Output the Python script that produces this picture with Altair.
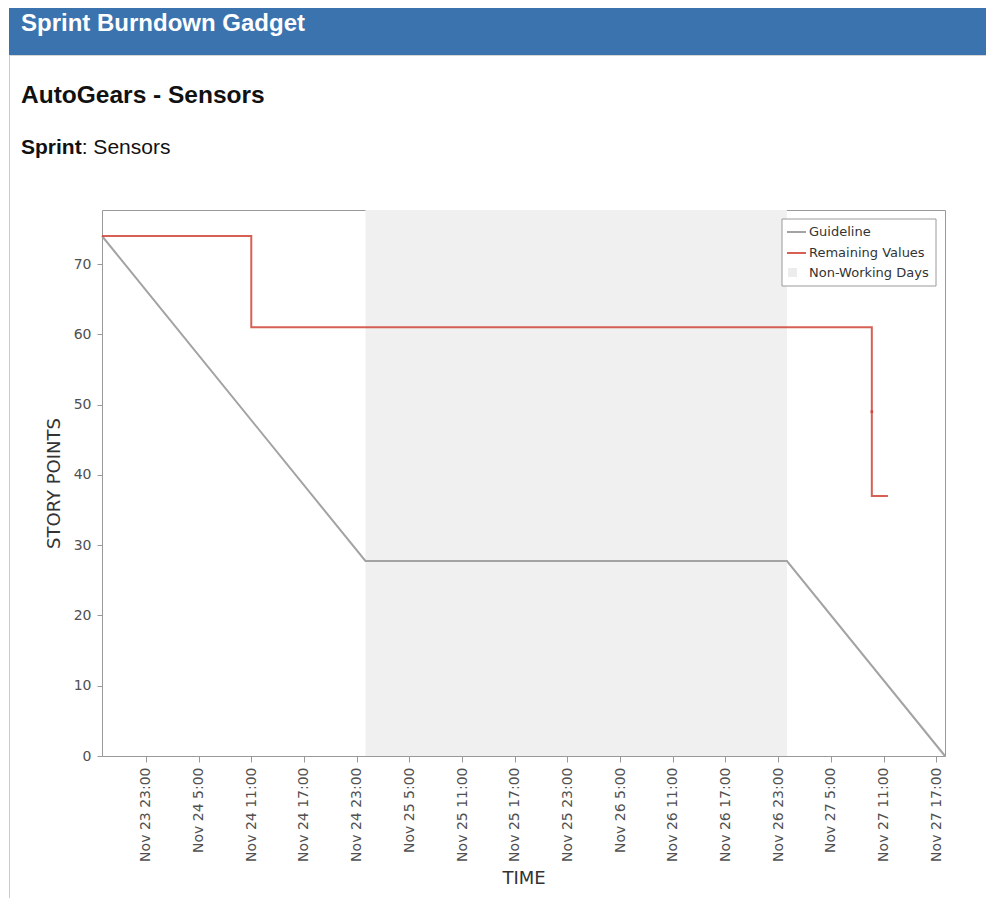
import altair as alt
import pandas as pd

# ---------------- data ----------------
header_title = "Sprint Burndown Gadget"
board_title = "AutoGears - Sensors"
sprint_label = "Sprint"
sprint_value = ": Sensors"

x_title = "TIME"
y_title = "STORY POINTS"

x_domain = ["2017-11-23T18:00:00Z", "2017-11-27T18:00:00Z"]
y_domain = [0, 77.7]
y_ticks = [0, 10, 20, 30, 40, 50, 60, 70]
x_ticks = [
    "2017-11-23T23:00:00Z", "2017-11-24T05:00:00Z", "2017-11-24T11:00:00Z",
    "2017-11-24T17:00:00Z", "2017-11-24T23:00:00Z", "2017-11-25T05:00:00Z",
    "2017-11-25T11:00:00Z", "2017-11-25T17:00:00Z", "2017-11-25T23:00:00Z",
    "2017-11-26T05:00:00Z", "2017-11-26T11:00:00Z", "2017-11-26T17:00:00Z",
    "2017-11-26T23:00:00Z", "2017-11-27T05:00:00Z", "2017-11-27T11:00:00Z",
    "2017-11-27T17:00:00Z",
]

guide_times = ["2017-11-23T18:00:00Z", "2017-11-25T00:00:00Z",
               "2017-11-27T00:00:00Z", "2017-11-27T18:00:00Z"]
guide_values = [74, 27.75, 27.75, 0]

remaining_times = ["2017-11-23T18:00:00Z", "2017-11-24T11:00:00Z",
                   "2017-11-27T09:40:00Z", "2017-11-27T09:40:00Z",
                   "2017-11-27T11:30:00Z"]
remaining_values = [74, 61, 49, 37, 37]

nonworking_start = ["2017-11-25T00:00:00Z"]
nonworking_end = ["2017-11-27T00:00:00Z"]

legend_labels = ["Guideline", "Remaining Values", "Non-Working Days"]

# ---------------- helpers ----------------
def ms(s):
    return int(pd.Timestamp(s).value // 10**6)

W, H = 843, 546
FONT = "DejaVu Sans"
HFONT = "Liberation Sans"
BLUE = "#3b73af"
RED = "#d04437"
GREY = "#a3a3a3"
SHADE = "#f0f0f0"

xscale = alt.Scale(type="utc", domain=[ms(x_domain[0]), ms(x_domain[1])], nice=False)
yscale = alt.Scale(domain=y_domain, nice=False, zero=True)

xaxis = alt.Axis(
    values=[ms(t) for t in x_ticks],
    labelExpr="utcFormat(datum.value, '%b %-d %-H:%M')",
    labelAngle=-90, title=x_title, tickSize=6, labelPadding=5,
    titlePadding=8, labelOverlap=False,
)
yaxis = alt.Axis(values=y_ticks, title=y_title, tickSize=5, labelPadding=6,
                 titlePadding=10)

guide_df = pd.DataFrame({"t": guide_times, "v": guide_values})
rem_df = pd.DataFrame({"t": remaining_times, "v": remaining_values,
                       "i": list(range(len(remaining_values)))})
shade_df = pd.DataFrame({"t": nonworking_start, "t2": nonworking_end})
one = pd.DataFrame({"k": [0]})

shade = alt.Chart(shade_df).mark_rect(color=SHADE).encode(
    x=alt.X("t:T", scale=xscale, axis=xaxis),
    x2="t2:T",
    y=alt.value(0), y2=alt.value(H),
)

guide = alt.Chart(guide_df).mark_line(color=GREY, strokeWidth=2).encode(
    x=alt.X("t:T", scale=xscale, axis=xaxis),
    y=alt.Y("v:Q", scale=yscale, axis=yaxis),
)

remaining = alt.Chart(rem_df).mark_line(
    color=RED, strokeWidth=2, interpolate="step-after", opacity=0.85
).encode(
    x=alt.X("t:T", scale=xscale, axis=xaxis),
    y=alt.Y("v:Q", scale=yscale, axis=yaxis),
    order=alt.Order("i:Q"),
)

# small marker at the intermediate value of the last drop
mid_df = rem_df.iloc[[2]]
mid_point = alt.Chart(mid_df).mark_square(color=RED, size=7, opacity=0.9).encode(
    x=alt.X("t:T", scale=xscale, axis=xaxis),
    y=alt.Y("v:Q", scale=yscale, axis=yaxis),
)

# ---- legend (inside plot, top-right) ----
LX0, LX1, LY0, LY1 = 680, 834, 9, 76
legend_box = alt.Chart(one).mark_rect(fill="white", stroke="#9a9a9a", strokeWidth=1).encode(
    x=alt.value(LX0), x2=alt.value(LX1), y=alt.value(LY0), y2=alt.value(LY1))
leg_rows = [22, 43, 63]
leg_line1 = alt.Chart(one).mark_rule(color=GREY, strokeWidth=2).encode(
    x=alt.value(685), x2=alt.value(704), y=alt.value(leg_rows[0]))
leg_line2 = alt.Chart(one).mark_rule(color=RED, strokeWidth=2, opacity=0.85).encode(
    x=alt.value(685), x2=alt.value(704), y=alt.value(leg_rows[1]))
leg_sw = alt.Chart(one).mark_rect(color="#ececec").encode(
    x=alt.value(686), x2=alt.value(695), y=alt.value(leg_rows[2] - 5), y2=alt.value(leg_rows[2] + 4))
leg_texts = [
    alt.Chart(one).mark_text(align="left", baseline="middle", font=FONT,
                             fontSize=13, color="#333").encode(
        x=alt.value(707), y=alt.value(yy), text=alt.value(lab))
    for lab, yy in zip(legend_labels, leg_rows)
]

# ---- page header (relative to plot origin at page (101,210)) ----
LEFT, RIGHT = -93, 884
header_rect = alt.Chart(one).mark_rect(color=BLUE).encode(
    x=alt.value(LEFT), x2=alt.value(RIGHT), y=alt.value(-202), y2=alt.value(-155))
header_line = alt.Chart(one).mark_rule(color="#d6d6d6", strokeWidth=1).encode(
    x=alt.value(LEFT), x2=alt.value(RIGHT), y=alt.value(-154.5))
left_border = alt.Chart(one).mark_rule(color="#cccccc", strokeWidth=1).encode(
    x=alt.value(LEFT + 0.5), y=alt.value(-155), y2=alt.value(688))
header_text = alt.Chart(one).mark_text(
    align="left", baseline="alphabetic", font=HFONT, fontSize=24,
    fontWeight="bold", color="white").encode(
    x=alt.value(-81), y=alt.value(-179), text=alt.value(header_title))
board_text = alt.Chart(one).mark_text(
    align="left", baseline="alphabetic", font=HFONT, fontSize=24.5,
    fontWeight="bold", color="#111").encode(
    x=alt.value(-81), y=alt.value(-107), text=alt.value(board_title))
sprint_bold = alt.Chart(one).mark_text(
    align="left", baseline="alphabetic", font=HFONT, fontSize=21,
    fontWeight="bold", color="#111").encode(
    x=alt.value(-81), y=alt.value(-56), text=alt.value(sprint_label))
sprint_rest = alt.Chart(one).mark_text(
    align="left", baseline="alphabetic", font=HFONT, fontSize=21,
    color="#111").encode(
    x=alt.value(-81 + 60.7), y=alt.value(-56), text=alt.value(sprint_value))

chart = alt.layer(
    shade, guide, remaining, mid_point,
    legend_box, leg_line1, leg_line2, leg_sw, *leg_texts,
    header_rect, header_line, left_border, header_text, board_text,
    sprint_bold, sprint_rest,
).properties(
    width=W, height=H, padding=0, background="white",
).configure_view(
    stroke="#999999", strokeWidth=1,
).configure_axis(
    labelFont=FONT, labelFontSize=14, labelColor="#505050",
    titleFont=FONT, titleFontSize=18, titleFontWeight="normal", titleColor="#333",
    tickColor="#999999", grid=False, domain=False,
)

chart.save("out.html", embed_options={"renderer": "svg", "actions": False})
